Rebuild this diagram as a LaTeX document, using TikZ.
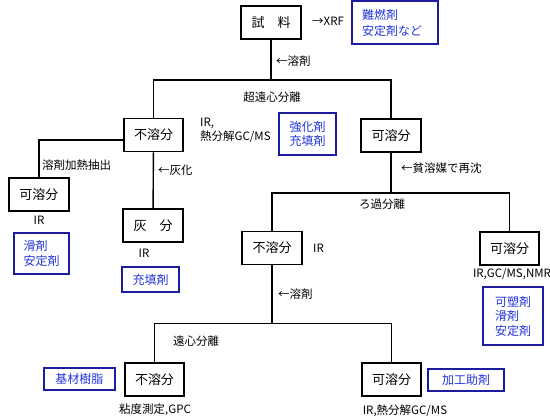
\documentclass[tikz,border=0pt]{standalone}
\usepackage{fontspec}
\setmainfont{Noto Sans CJK JP}
\usepackage{xcolor}
\usetikzlibrary{positioning}
\definecolor{navy}{HTML}{1C1CA0}
\definecolor{ink}{HTML}{2233DD}

\begin{document}
\begin{tikzpicture}[
  x=1pt,y=-1pt,
  box/.style={draw,line width=1.6pt,minimum width=59pt,minimum height=33pt,inner sep=0pt,font=\fontsize{13}{15}\selectfont},
  note/.style={draw=navy,line width=1.8pt,text=ink,align=left,inner sep=0pt,font=\fontsize{12}{14.5}\selectfont},
  lbl/.style={inner sep=0pt,font=\fontsize{11.5}{14}\selectfont},
  line/.style={line width=1.4pt}
]
\useasboundingbox (0,0) rectangle (550,419);
% top
\node[box,minimum width=60pt] (sample) at (271,22.5) {試　料};
\node[lbl,anchor=west] (xrf) at (312,21) {→XRF};
\node[note,text width=66pt,inner xsep=10pt,minimum height=43pt,font=\fontsize{12}{16}\selectfont] (flame) at (395,22.5) {難燃剤\\安定剤など};
\node[lbl,anchor=west] (solv1) at (276,61) {←溶剤};
\coordinate (split1) at (271,80);
\node[lbl] (ucf) at (272,97) {超遠心分離};
% first split
\node[box] (insol1) at (153.5,135) {不溶分};
\node[box,minimum width=60pt] (sol1) at (391,135.5) {可溶分};
\node[lbl,anchor=west,align=left] (ir1) at (200,130.5) {IR,\\熱分解GC/MS};
\node[note,minimum width=57pt,minimum height=42pt] (reinf) at (307.5,134) {強化剤\\充填剤};
% insoluble branch
\node[box,minimum width=60pt] (solL) at (39,194.5) {可溶分};
\node[lbl,anchor=west] (ext) at (42,165) {溶剤加熱抽出};
\node[box,minimum width=60pt] (ash) at (153,225.5) {灰　分};
\node[lbl,anchor=west] (ashing) at (158,170) {←灰化};
\node[lbl] (irL) at (39,220) {IR};
\node[lbl] (irA) at (144,253) {IR};
\node[note,minimum width=55pt,minimum height=41pt] (lubL) at (41.5,253.5) {滑剤\\安定剤};
\node[note,minimum width=57pt,minimum height=25pt] (fillA) at (150.5,279.5) {充填剤};
% soluble branch
\node[lbl,anchor=west] (reprec) at (401,168) {←貧溶媒で再沈};
\coordinate (split2) at (391,193);
\node[lbl] (filt) at (382,204) {ろ過分離};
\node[box,minimum width=60pt] (insol2) at (272,248) {不溶分};
\node[box] (sol2) at (509.5,248.5) {可溶分};
\node[lbl,anchor=west] (ir2) at (313,248) {IR};
\node[lbl] (ir3) at (512,274) {IR,GC/MS,NMR};
\node[note,minimum width=60pt,minimum height=58pt] (plast) at (513,316) {可塑剤\\滑剤\\安定剤};
\node[lbl,anchor=west] (solv2) at (278,294) {←溶剤};
\coordinate (split3) at (272,323.5);
\node[lbl] (cf) at (196,341) {遠心分離};
% bottom
\node[box] (insol3) at (154.5,379.5) {不溶分};
\node[box] (sol3) at (391.5,379.5) {可溶分};
\node[note,minimum width=71pt,minimum height=22pt] (base) at (79.5,379) {基材樹脂};
\node[note,minimum width=76pt,minimum height=22pt] (proc) at (466,380) {加工助剤};
\node[lbl] (visc) at (155,410) {粘度測定,GPC};
\node[lbl] (ir4) at (405,411) {IR,熱分解GC/MS};
% connectors
\draw[line] (sample) -- (split1);
\draw[line] (insol1) |- (split1) -| (sol1);
\draw[line] ([yshift=-5pt]insol1.west) -| (solL);
\draw[line] (insol1) -- (ash);
\draw[line] (sol1) -- (split2);
\draw[line] (insol2) |- (split2) -| (sol2);
\draw[line] (insol2) -- (split3);
\draw[line] (insol3) |- (split3) -| (sol3);
\end{tikzpicture}
\end{document}
